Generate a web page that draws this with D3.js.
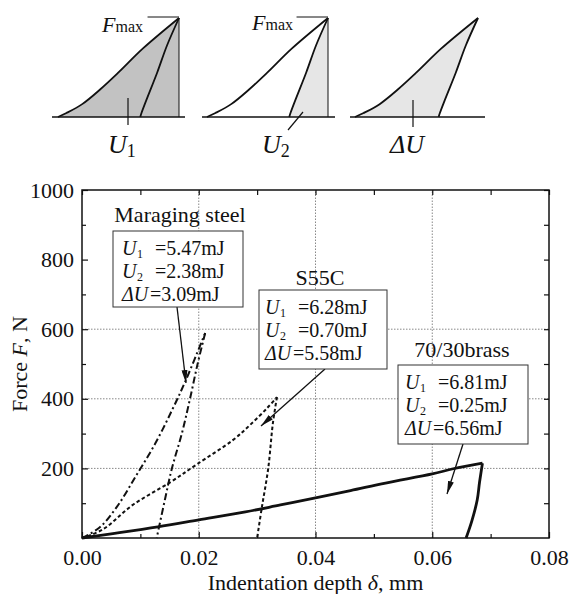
<!DOCTYPE html>
<html>
<head>
<meta charset="utf-8">
<script src="https://cdn.jsdelivr.net/npm/d3@7"></script>
<style>
body { margin: 0; background: #fff; }
text { font-family: "Liberation Serif", "Times New Roman", serif; fill: #111; }
</style>
</head>
<body>
<svg></svg>
<script>
// force-depth curves: [depth mm, force N]
var maragingLoad = [[0,0],[0.003,30],[0.006,90],[0.0093,180],[0.0125,270],[0.0155,370],[0.0178,454],[0.0211,589]];
var maragingUnload = [[0.0211,589],[0.0198,500],[0.0185,400],[0.0171,300],[0.0154,200],[0.0142,110],[0.0128,0]];
var s55cLoad = [[0,0],[0.0036,25],[0.0087,95],[0.0151,160],[0.0197,212],[0.0259,282],[0.0288,325],[0.0317,373],[0.0334,405]];
var s55cUnload = [[0.0334,405],[0.0327,330],[0.0319,200],[0.0308,87],[0.0300,0]];
var brassLoad = [[0,0],[0.005,12],[0.013,32],[0.02,52],[0.028,75],[0.034,95],[0.04,115],[0.046,136],[0.052,158],[0.06,184],[0.0636,199],[0.0686,215]];
var brassUnload = [[0.0686,215],[0.0681,160],[0.0677,109],[0.0668,50],[0.0658,0]];

var materials = ["Maraging steel", "S55C", "70/30brass"];
var u1 = ["5.47", "6.28", "6.81"];
var u2 = ["2.38", "0.70", "0.25"];
var du = ["3.09", "5.58", "6.56"];

var xTicks = [0, 0.02, 0.04, 0.06, 0.08];
var xMinor = [0.01, 0.03, 0.05, 0.07];
var yTicks = [200, 400, 600, 800, 1000];
var yMinor = [100, 300, 500, 700, 900];
var xGrid = [0.02, 0.04, 0.06];
var yGrid = [200, 400, 600];

// schematic hysteresis loop, normalised [depth, force]
var sketchLoad = [[0,0],[0.07,0.04],[0.2,0.13],[0.35,0.28],[0.5,0.45],[0.7,0.69],[1,1]];
var sketchUnload = [[1,1],[0.9,0.72],[0.82,0.45],[0.73,0.17],[0.69,0.04],[0.68,0]];

var width = 570;
var height = 594;

var svg = d3.select("svg")
            .attr("width", width)
            .attr("height", height);

var x = d3.scaleLinear().domain([0, 0.08]).range([82, 549]);
var y = d3.scaleLinear().domain([0, 1000]).range([538, 190]);

/* grid */
svg.append("g")
   .selectAll("line")
   .data(xGrid)
   .enter()
   .append("line")
   .attr("x1", function(d) { return x(d); })
   .attr("x2", function(d) { return x(d); })
   .attr("y1", y(0))
   .attr("y2", y(1000))
   .attr("stroke", "#888")
   .attr("stroke-width", 1)
   .attr("stroke-dasharray", "1.5,1.5");

svg.append("g")
   .selectAll("line")
   .data(yGrid)
   .enter()
   .append("line")
   .attr("y1", function(d) { return y(d); })
   .attr("y2", function(d) { return y(d); })
   .attr("x1", x(0))
   .attr("x2", x(0.08))
   .attr("stroke", "#888")
   .attr("stroke-width", 1)
   .attr("stroke-dasharray", "1.5,1.5");

/* axes, ticks pointing inward on all four sides */
var styleAxis = function(g)
{
  g.select(".domain").remove();
  g.selectAll("line").attr("stroke", "#111").attr("stroke-width", 1.2);
  g.selectAll("text").attr("font-size", 22).attr("font-family", "Liberation Serif");
};

svg.append("g")
   .attr("transform", "translate(0," + y(0) + ")")
   .call(d3.axisBottom(x).tickValues(xTicks).tickSize(-6).tickPadding(11).tickFormat(d3.format(".2f")))
   .call(styleAxis);
svg.append("g")
   .attr("transform", "translate(0," + y(0) + ")")
   .call(d3.axisBottom(x).tickValues(xMinor).tickSize(-4).tickFormat(""))
   .call(styleAxis);
svg.append("g")
   .attr("transform", "translate(0," + y(1000) + ")")
   .call(d3.axisTop(x).tickValues(xTicks.concat(xMinor)).tickSize(-5).tickFormat(""))
   .call(styleAxis);

svg.append("g")
   .attr("transform", "translate(" + x(0) + ",0)")
   .call(d3.axisLeft(y).tickValues(yTicks).tickSize(-6).tickPadding(8).tickFormat(d3.format("d")))
   .call(styleAxis);
svg.append("g")
   .attr("transform", "translate(" + x(0) + ",0)")
   .call(d3.axisLeft(y).tickValues(yMinor).tickSize(-4).tickFormat(""))
   .call(styleAxis);
svg.append("g")
   .attr("transform", "translate(" + x(0.08) + ",0)")
   .call(d3.axisRight(y).tickValues(yTicks.concat(yMinor)).tickSize(-5).tickFormat(""))
   .call(styleAxis);

svg.append("rect")
   .attr("x", x(0))
   .attr("y", y(1000))
   .attr("width", x(0.08) - x(0))
   .attr("height", y(0) - y(1000))
   .attr("fill", "none")
   .attr("stroke", "#111")
   .attr("stroke-width", 1.5);

/* axis titles */
var xt = svg.append("text")
            .attr("x", (x(0) + x(0.08)) / 2)
            .attr("y", 589.5)
            .attr("font-size", 22)
            .style("text-anchor", "middle");
xt.append("tspan").text("Indentation depth ");
xt.append("tspan").attr("font-style", "italic").text("δ");
xt.append("tspan").text(", mm");

var yt = svg.append("text")
            .attr("transform", "translate(27," + (y(0) + y(1000)) / 2 + ") rotate(-90)")
            .attr("font-size", 22)
            .style("text-anchor", "middle");
yt.append("tspan").text("Force ");
yt.append("tspan").attr("font-style", "italic").text("F");
yt.append("tspan").text(", N");

/* curves */
var line = d3.line()
             .x(function(d) { return x(d[0]); })
             .y(function(d) { return y(d[1]); })
             .curve(d3.curveCatmullRom.alpha(0.5));

var curves = [
  {pts: maragingLoad, dash: "7,3,2,3", w: 2},
  {pts: maragingUnload, dash: "7,3,2,3", w: 2},
  {pts: s55cLoad, dash: "3.5,2.5", w: 2},
  {pts: s55cUnload, dash: "3.5,2.5", w: 2},
  {pts: brassLoad, dash: null, w: 2.8},
  {pts: brassUnload, dash: null, w: 2.8}
];

svg.selectAll("path.curve")
   .data(curves)
   .enter()
   .append("path")
   .attr("class", "curve")
   .attr("d", function(d) { return line(d.pts); })
   .attr("fill", "none")
   .attr("stroke", "#111")
   .attr("stroke-width", function(d) { return d.w; })
   .attr("stroke-dasharray", function(d) { return d.dash; });

/* arrows + boxes */
svg.append("defs")
   .append("marker")
   .attr("id", "head")
   .attr("viewBox", "0 0 13 6")
   .attr("refX", 13)
   .attr("refY", 3)
   .attr("markerWidth", 13)
   .attr("markerHeight", 6)
   .attr("markerUnits", "userSpaceOnUse")
   .attr("orient", "auto")
   .append("path")
   .attr("d", "M0,0 L13,3 L0,6 Z")
   .attr("fill", "#111");

var notes = [
  {tx: 180, ty: 222, bx: 113, by: 231, bw: 130, bh: 76, lx: 122, ax1: 177, ay1: 307, ax2: 186, ay2: 383},
  {tx: 320, ty: 285, bx: 259, by: 290, bw: 128, bh: 79, lx: 265, ax1: 325, ay1: 369, ax2: 261, ay2: 426},
  {tx: 462, ty: 357, bx: 398, by: 365, bw: 130, bh: 79, lx: 405, ax1: 463, ay1: 444, ax2: 447, ay2: 494}
];
var rowOffsets = [24, 47, 70];

notes.forEach(function(n, i)
{
  svg.append("line")
     .attr("x1", n.ax1).attr("y1", n.ay1)
     .attr("x2", n.ax2).attr("y2", n.ay2)
     .attr("stroke", "#111")
     .attr("stroke-width", 1.3)
     .attr("marker-end", "url(#head)");

  svg.append("rect")
     .attr("x", n.bx).attr("y", n.by)
     .attr("width", n.bw).attr("height", n.bh)
     .attr("fill", "#fff")
     .attr("stroke", "#333")
     .attr("stroke-width", 1);

  svg.append("text")
     .attr("x", n.tx).attr("y", n.ty)
     .attr("font-size", 22)
     .style("text-anchor", "middle")
     .text(materials[i]);

  var rows = [["U", "1", u1[i]], ["U", "2", u2[i]], ["ΔU", "", du[i]]];
  rows.forEach(function(r, k)
  {
    var base = n.by + rowOffsets[k];
    var t = svg.append("text")
               .attr("x", n.lx)
               .attr("y", base)
               .attr("font-size", 20);
    var sym = t.append("tspan").attr("font-style", "italic").text(r[0]);
    t.append("tspan")
     .attr("x", n.lx + (r[1] != "" ? 33 : 28))
     .text("=" + r[2] + "mJ");
    if (r[1] != "")
    {
      // subscript as its own little text so rows do not collide
      svg.append("text")
         .attr("x", n.lx + sym.node().getComputedTextLength() + 0.5)
         .attr("y", base + 3)
         .attr("font-size", 12)
         .text(r[1]);
    }
  });
});

/* the three little sketches on top */
var sketches = [
  {x0: 58, x1: 179, b0: 52, b1: 185, fill: "#c2c2c2", vert: true, fmax: 102, sym: "U", sub: "1", lbl: 108, lead: [128, 98, 128, 125]},
  {x0: 207, x1: 328, b0: 202, b1: 335, fill: "#e6e6e6", vert: true, fmax: 252, sym: "U", sub: "2", lbl: 262, lead: [303, 112, 288, 130]},
  {x0: 355, x1: 478, b0: 350, b1: 485, fill: "#e6e6e6", vert: false, fmax: null, sym: "ΔU", sub: "", lbl: 390, lead: [413, 100, 413, 127]}
];

sketches.forEach(function(s, i)
{
  var sx = d3.scaleLinear().domain([0, 1]).range([s.x0, s.x1]);
  var sy = d3.scaleLinear().domain([0, 1]).range([117, 18]);
  var sl = d3.line()
             .x(function(d) { return sx(d[0]); })
             .y(function(d) { return sy(d[1]); })
             .curve(d3.curveCatmullRom.alpha(0.5));

  var corner = "L" + sx(1) + "," + sy(0);
  var shade;
  if (i == 0) shade = sl(sketchLoad) + corner + "Z";
  else if (i == 1) shade = sl(sketchUnload) + corner + "Z";
  else shade = sl(sketchLoad) + sl(sketchUnload).replace("M", "L") + "Z";

  svg.append("path").attr("d", shade).attr("fill", s.fill).attr("stroke", "none");

  svg.append("line")
     .attr("x1", s.b0).attr("x2", s.b1)
     .attr("y1", sy(0)).attr("y2", sy(0))
     .attr("stroke", "#111").attr("stroke-width", 1.6);

  svg.append("path").attr("d", sl(sketchLoad)).attr("fill", "none").attr("stroke", "#111").attr("stroke-width", 1.8);
  svg.append("path").attr("d", sl(sketchUnload)).attr("fill", "none").attr("stroke", "#111").attr("stroke-width", 1.8);

  if (s.vert)
  {
    svg.append("line")
       .attr("x1", sx(1)).attr("x2", sx(1))
       .attr("y1", sy(1)).attr("y2", sy(0))
       .attr("stroke", "#111").attr("stroke-width", 1);
    svg.append("line")
       .attr("x1", sx(0.74)).attr("x2", sx(1))
       .attr("y1", sy(1) - 1).attr("y2", sy(1) - 1)
       .attr("stroke", "#111").attr("stroke-width", 1);
    var f = svg.append("text")
               .attr("x", s.fmax)
               .attr("y", i == 0 ? 32 : 30)
               .attr("font-size", 22);
    f.append("tspan").attr("font-style", "italic").text("F");
    f.append("tspan").attr("font-size", 16).text("max");
  }

  svg.append("line")
     .attr("x1", s.lead[0]).attr("y1", s.lead[1])
     .attr("x2", s.lead[2]).attr("y2", s.lead[3])
     .attr("stroke", "#111").attr("stroke-width", 1.2);

  var u = svg.append("text")
             .attr("x", s.lbl)
             .attr("y", 153)
             .attr("font-size", 26);
  u.append("tspan").attr("font-style", "italic").text(s.sym);
  if (s.sub != "") u.append("tspan").attr("font-size", 18).attr("dy", 4).text(s.sub);
});
</script>
</body>
</html>
